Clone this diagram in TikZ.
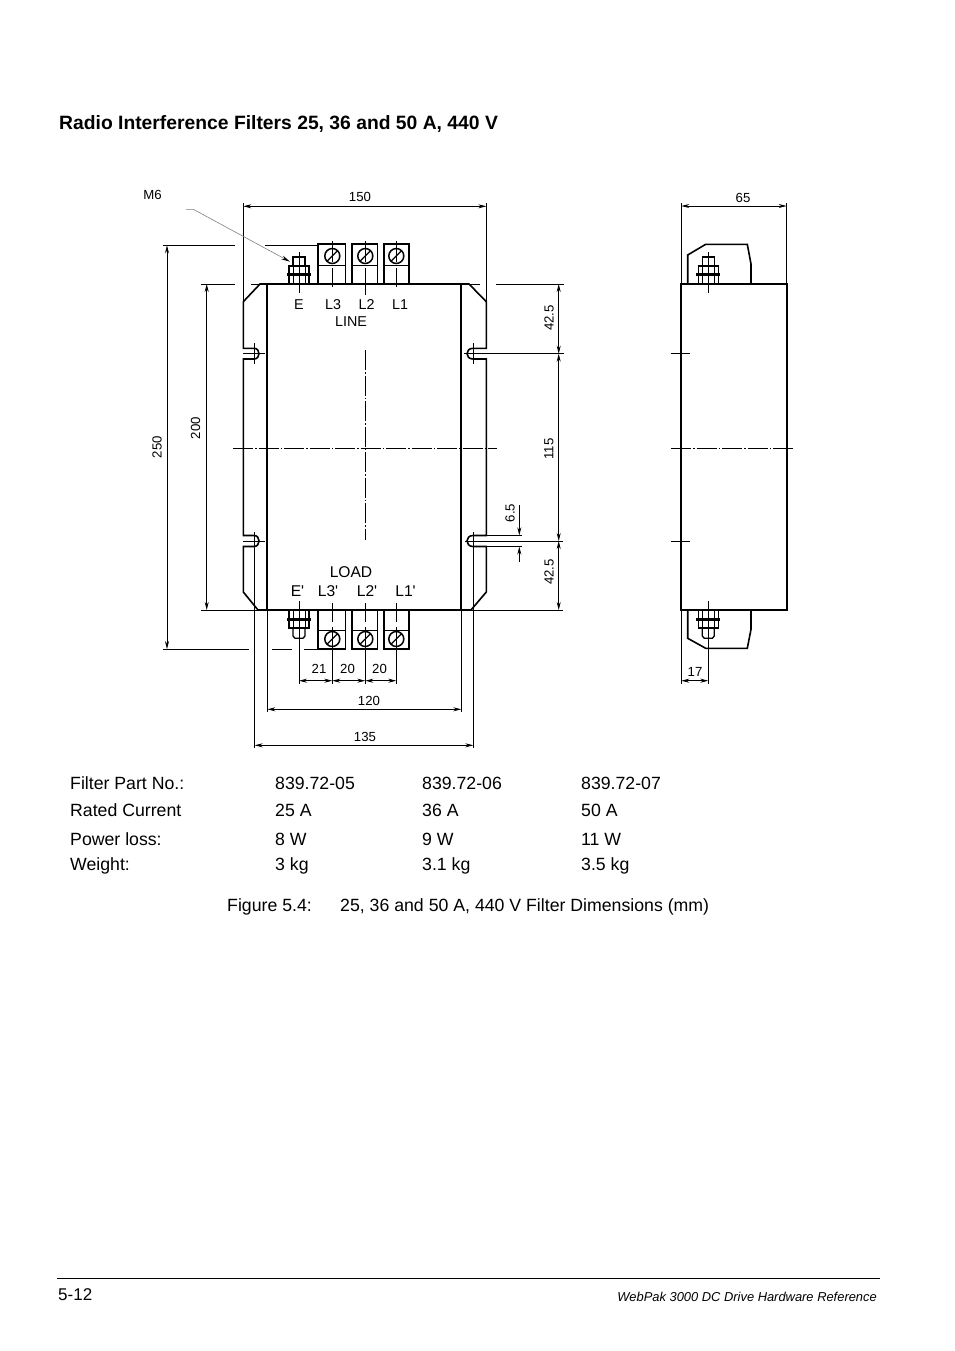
\documentclass[tikz,border=0pt]{standalone}
\usepackage{fontspec}
\setmainfont{Liberation Sans}
\usetikzlibrary{arrows.meta}

\begin{document}
\begin{tikzpicture}[
		x=1pt,y=-1pt,
		outline/.style={line width=1.6pt,line join=miter},
		termbox/.style={line width=1.9pt,line join=miter},
		boltline/.style={line width=1.3pt,line join=miter},
		thinline/.style={line width=0.9pt},
		extline/.style={line width=0.9pt},
		dimline/.style={line width=0.8pt,{Stealth[length=8pt,width=4pt]}-{Stealth[length=8pt,width=4pt]}},
		dimend/.style={line width=0.8pt,-{Stealth[length=8pt,width=4pt]}},
		centerline/.style={line width=0.9pt,dash pattern=on 20pt off 2pt on 1.5pt off 2pt},
		maintext/.style={font=\fontsize{17.7}{20}\selectfont,anchor=base west,inner sep=0},
		dimtext/.style={font=\fontsize{13.2}{15}\selectfont,inner sep=0},
		termtext/.style={font=\fontsize{14.3}{16}\selectfont,inner sep=0},
		loadtext/.style={font=\fontsize{15.6}{18}\selectfont,inner sep=0}
	]
	\useasboundingbox (0,0) rectangle (954,1351);

	% heading, table, caption and footer
	\node[maintext,font=\fontsize{19.3}{22}\bfseries\selectfont] (heading) at (59,130) {Radio Interference Filters 25, 36 and 50 A, 440 V};
	\node[maintext] (partlabel) at (70,789) {Filter Part No.:};
	\node[maintext] (parta) at (275,789) {839.72-05};
	\node[maintext] (partb) at (422,789) {839.72-06};
	\node[maintext] (partc) at (581,789) {839.72-07};
	\node[maintext] (currentlabel) at (70,816) {Rated Current};
	\node[maintext] (currenta) at (275,816) {25 A};
	\node[maintext] (currentb) at (422,816) {36 A};
	\node[maintext] (currentc) at (581,816) {50 A};
	\node[maintext] (losslabel) at (70,845) {Power loss:};
	\node[maintext] (lossa) at (275,845) {8 W};
	\node[maintext] (lossb) at (422,845) {9 W};
	\node[maintext] (lossc) at (581,845) {11 W};
	\node[maintext] (weightlabel) at (70,870) {Weight:};
	\node[maintext] (weighta) at (275,870) {3 kg};
	\node[maintext] (weightb) at (422,870) {3.1 kg};
	\node[maintext] (weightc) at (581,870) {3.5 kg};
	\node[maintext] (figlabel) at (227,911) {Figure 5.4:};
	\node[maintext] (figtext) at (340,911) {25, 36 and 50 A, 440 V Filter Dimensions (mm)};
	\draw[thinline] (57,1278) -- (880,1278);
	\node[maintext,font=\fontsize{17}{20}\selectfont] (pagenum) at (58,1300) {5-12};
	\node[maintext,anchor=base east,font=\fontsize{12.9}{15}\itshape\selectfont] (doctitle) at (877,1301) {WebPak 3000 DC Drive Hardware Reference};

	% front view, plate and body
	\draw[outline] (260,284) -- (243.3,301.7) -- (243.3,348.3) -- (254,348.3)
		.. controls (260.7,348.3) and (260.7,359) .. (254,359) -- (243.3,359)
		-- (243.3,535.5) -- (254,535.5)
		.. controls (260.7,535.5) and (260.7,546.5) .. (254,546.5) -- (243.3,546.5)
		-- (243.3,592) -- (258,610) -- (471,610) -- (486.3,592)
		-- (486.3,546.5) -- (473,546.5)
		.. controls (465,546.5) and (465,535.5) .. (473,535.5) -- (486.3,535.5)
		-- (486.3,359) -- (473,359)
		.. controls (465,359) and (465,348.3) .. (473,348.3) -- (486.3,348.3)
		-- (486.3,301.7) -- (469,284) -- cycle;
	\draw[outline] (267,284) -- (267,610);
	\draw[outline] (461,284) -- (461,610);
	\draw[centerline] (233,448.3) -- (497,448.3);
	\draw[centerline] (365.3,350) -- (365.3,540);

	% terminals
	\foreach \xa/\xb/\xc/\xd in {317.7/345.5/332.3/287,351.7/377.5/365.3/295,384/409.3/396.3/287}{
		\draw[termbox] (\xa,284) -- (\xa,244) -- (\xb,244) -- (\xb,284);
		\draw[thinline] (\xa,265) -- (\xb,265);
		\draw[boltline,line width=1.5pt] (\xc,256) circle[radius=7.5];
		\draw[boltline] (\xc-5,261) -- (\xc+5,251);
		\draw[thinline] (\xc,241) -- (\xc,262);
		\draw[thinline] (\xc,268) -- (\xc,\xd);
		\draw[termbox] (\xa,610) -- (\xa,649) -- (\xb,649) -- (\xb,610);
		\draw[thinline] (\xa,630) -- (\xb,630);
		\draw[boltline,line width=1.5pt] (\xc,639) circle[radius=7.5];
		\draw[boltline] (\xc-5,644) -- (\xc+5,634);
		\draw[thinline] (\xc,603) -- (\xc,622);
		\draw[thinline] (\xc,627) -- (\xc,684);
	}

	% bolts, front and side view
	\foreach \bx in {299,708.3}{
		\draw[boltline] (\bx-6,266) -- (\bx-6,257) -- (\bx+6,257) -- (\bx+6,266);
		\draw[boltline] (\bx-10,284) -- (\bx-10,266) -- (\bx+10,266) -- (\bx+10,284);
		\draw[thinline] (\bx-6,266) -- (\bx-6,284);
		\draw[thinline] (\bx+6,266) -- (\bx+6,284);
		\draw[line width=2.6pt] (\bx-12,274.5) -- (\bx+12,274.5);
		\draw[thinline] (\bx,252) -- (\bx,293);
		\draw[boltline] (\bx-6,628) -- (\bx-6,636) -- (\bx-4,638.3) -- (\bx+4,638.3) -- (\bx+6,636) -- (\bx+6,628);
		\draw[boltline] (\bx-10,610) -- (\bx-10,628) -- (\bx+10,628) -- (\bx+10,610);
		\draw[thinline] (\bx-6,610) -- (\bx-6,628);
		\draw[thinline] (\bx+6,610) -- (\bx+6,628);
		\draw[line width=2.6pt] (\bx-12,619.3) -- (\bx+12,619.3);
		\draw[thinline] (\bx,601) -- (\bx,684);
	}

	% side view
	\draw[outline] (681,284) rectangle (786.7,610);
	\draw[outline] (687.7,284) -- (687.7,255) -- (705.7,244.3) -- (747.3,244.3) -- (751,264) -- (751,284);
	\draw[outline] (687.7,610) -- (687.7,638.3) -- (705.7,648.3) -- (747.3,648.3) -- (751,629.3) -- (751,610);
	\draw[centerline] (671,448.3) -- (794,448.3);
	\draw[thinline] (670.7,353.5) -- (690,353.5);
	\draw[thinline] (670.7,541.3) -- (690,541.3);

	% extension lines
	\draw[extline] (243.3,203) -- (243.3,302);
	\draw[extline] (486.3,203) -- (486.3,302);
	\draw[extline] (163,245.3) -- (235,245.3);
	\draw[extline] (265,245.3) -- (318,245.3);
	\draw[extline] (163,649) -- (249,649);
	\draw[extline] (272,649) -- (292,649);
	\draw[extline] (304,649) -- (318,649);
	\draw[extline] (201,284) -- (235,284);
	\draw[extline] (251,284) -- (318,284);
	\draw[extline] (410,284) -- (480,284);
	\draw[extline] (496,284) -- (564,284);
	\draw[extline] (201,610) -- (563,610);
	\draw[extline] (243,353.7) -- (265,353.7);
	\draw[extline] (254.7,343) -- (254.7,364);
	\draw[extline] (464,353.7) -- (564,353.7);
	\draw[extline] (473.3,343) -- (473.3,364);
	\draw[extline] (243,541) -- (265,541);
	\draw[extline] (465,541) -- (563,541);
	\draw[extline] (254.7,532) -- (254.7,748);
	\draw[extline] (473.3,532) -- (473.3,748);
	\draw[extline] (267.3,610) -- (267.3,712);
	\draw[extline] (461.3,610) -- (461.3,712);
	\draw[extline] (486,535.3) -- (522,535.3);
	\draw[extline] (486,546.6) -- (522,546.6);
	\draw[extline] (681.3,203) -- (681.3,284);
	\draw[extline] (786.7,203) -- (786.7,284);
	\draw[extline] (681.3,610) -- (681.3,684);

	% dimensions
	\draw[dimline] (243.3,206.3) -- (486.3,206.3);
	\draw[dimline] (167,245.3) -- (167,649);
	\draw[dimline] (206.7,284) -- (206.7,610);
	\draw[dimline] (558.7,284) -- (558.7,353.7);
	\draw[dimline] (558.7,353.7) -- (558.7,541);
	\draw[dimline] (558.7,541) -- (558.7,610);
	\draw[dimend] (519.3,505) -- (519.3,535.3);
	\draw[dimend] (519.3,562) -- (519.3,546.6);
	\draw[dimline] (299,680.7) -- (332.3,680.7);
	\draw[dimline] (332.3,680.7) -- (365.3,680.7);
	\draw[dimline] (365.3,680.7) -- (396.3,680.7);
	\draw[dimline] (267.3,709.3) -- (461.3,709.3);
	\draw[dimline] (254.7,745.3) -- (473.3,745.3);
	\draw[dimline] (681.3,206) -- (786.7,206);
	\draw[dimline] (681.3,680.7) -- (708.3,680.7);

	% M6 leader
	\coordinate (leaderstart) at (186,209.3);
	\coordinate (leaderbend) at (193.3,209.3);
	\coordinate (leadertip) at (290,261.7);
	\draw[line width=0.6pt,gray,-{Stealth[length=9pt,width=4pt,black]}] (leaderstart) -- (leaderbend) -- (leadertip);

	% labels
	\node[dimtext] (mlabel) at (152.5,195) {M6};
	\node[dimtext] (dimwidth) at (360,197) {150};
	\node[dimtext,rotate=90] (dimtotal) at (157,447) {250};
	\node[dimtext,rotate=90] (dimbody) at (195.5,428) {200};
	\node[dimtext,rotate=90] (dimtop) at (549,318) {42.5};
	\node[dimtext,rotate=90] (dimmid) at (549,449) {115};
	\node[dimtext,rotate=90] (dimlow) at (549,572) {42.5};
	\node[dimtext,rotate=90] (dimslot) at (510,513) {6.5};
	\node[dimtext] (dimdepth) at (743,198) {65};
	\node[dimtext] (dimbolt) at (695,671.5) {17};
	\node[dimtext] (pitcha) at (319,668.5) {21};
	\node[dimtext] (pitchb) at (347.5,668.5) {20};
	\node[dimtext] (pitchc) at (379.5,668.5) {20};
	\node[dimtext] (dimrail) at (369,701) {120};
	\node[dimtext] (dimplate) at (365,736.5) {135};
	\node[termtext] (toplabel) at (299,304.5) {E};
	\node[termtext] (topc) at (333,304.5) {L3};
	\node[termtext] (topb) at (366.5,304.5) {L2};
	\node[termtext] (topa) at (400,304.5) {L1};
	\node[termtext] (linelabel) at (351,321.5) {LINE};
	\node[loadtext] (loadlabel) at (351,572) {LOAD};
	\node[loadtext] (earthlabel) at (297.5,591) {E\textquotesingle};
	\node[loadtext] (loadc) at (328,591) {L3\textquotesingle};
	\node[loadtext] (loadb) at (367,591) {L2\textquotesingle};
	\node[loadtext] (loada) at (405.5,591) {L1\textquotesingle};
\end{tikzpicture}
\end{document}
